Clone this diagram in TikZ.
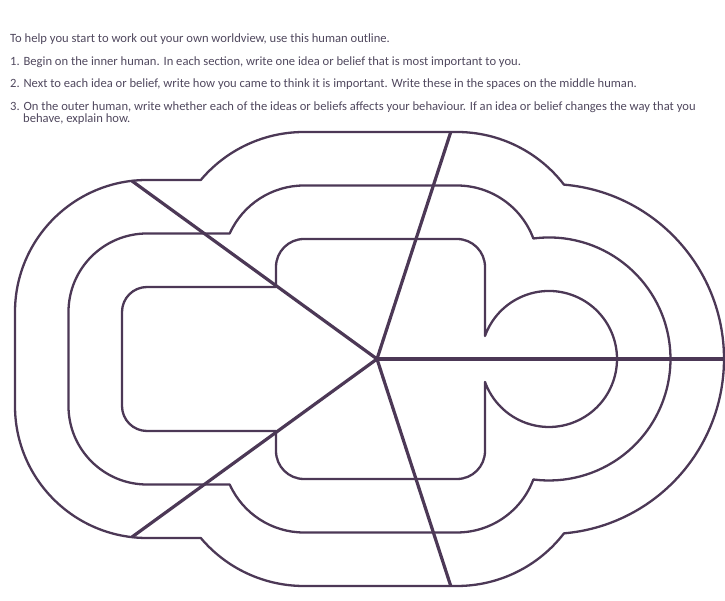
\documentclass[tikz,border=0pt]{standalone}
\usepackage{fontspec}
\setmainfont{Carlito}
\usepackage{tikz}
\definecolor{plum}{RGB}{76,56,86}
\definecolor{inkgrey}{RGB}{80,72,94}

\begin{document}
\begin{tikzpicture}[x=1pt, y=1pt, line join=round,
	outline/.style={draw=plum, line width=2.3pt},
	spoke/.style={draw=plum, line width=3.2pt},
	txt/.style={anchor=base west, inner sep=0pt, text=inkgrey, font=\fontsize{12.6}{14}\selectfont}]
			\useasboundingbox (-377,-242) rectangle (348,359);
			\node[txt] (intro) at (-367,316) {To help you start to work out your own worldview, use this human outline.};
			\node[txt] (stepA) at (-367,293.5) {1. Begin on the inner human. In each section, write one idea or belief that is most important to you.};
			\node[txt] (stepB) at (-367,271) {2. Next to each idea or belief, write how you came to think it is important. Write these in the spaces on the middle human.};
			\node[txt] (stepC) at (-367,248.5) {3. On the outer human, write whether each of the ideas or beliefs affects your behaviour. If an idea or belief changes the way that you};
			\node[txt] (stepCc) at (-354,236.5) {behave, explain how.};
			% inner human
			\draw[outline] (-255,-47) -- (-255,47) arc[start angle=180,end angle=90,radius=25]
			-- (-101,72) -- (-101,92) arc[start angle=180,end angle=90,radius=28] -- (80,120)
			arc[start angle=90,end angle=0,radius=28] -- (108,23)
			arc[start angle=160.25,end angle=-160.25,radius=68] -- (108,-92)
			arc[start angle=0,end angle=-90,radius=28] -- (-73,-120)
			arc[start angle=-90,end angle=-180,radius=28] -- (-101,-72) -- (-230,-72)
			arc[start angle=-90,end angle=-180,radius=25] -- cycle;
			% middle and outer human
			\foreach \d in {53.5,107}{
				\pgfmathsetmacro\rl{25+\d}
				\pgfmathsetmacro\rt{28+\d}
				\pgfmathsetmacro\rh{68+\d}
				\pgfmathsetmacro\aa{180-asin((\d-20)/\rt)}
				\pgfmathsetmacro\ka{65.05-(1920+40*\d)/130.1}
				\pgfmathsetmacro\ab{acos(\ka/\rt)-45}
				\pgfmathsetmacro\ac{135-acos((130.1-\ka)/\rh)}
				\draw[outline] (-255-\d,-47) -- (-255-\d,47)
				arc[start angle=180,end angle=90,radius=\rl]
				-- ({-73+\rt*cos(\aa)},72+\d)
				arc[start angle=\aa,end angle=90,radius=\rt] -- (80,120+\d)
				arc[start angle=90,end angle=\ab,radius=\rt]
				arc[start angle=\ac,end angle=-\ac,radius=\rh]
				arc[start angle=-\ab,end angle=-90,radius=\rt] -- (-73,-120-\d)
				arc[start angle=-90,end angle=-\aa,radius=\rt] -- (-230,-72-\d)
				arc[start angle=-90,end angle=-180,radius=\rl] -- cycle;
			}
			\coordinate (O) at (0,0);
			\foreach \a/\r in {0/347,72/238.7,-72/238.7,144/303,-144/303}
			\draw[spoke] (O) -- (\a:\r);
		\end{tikzpicture}
\end{document}
